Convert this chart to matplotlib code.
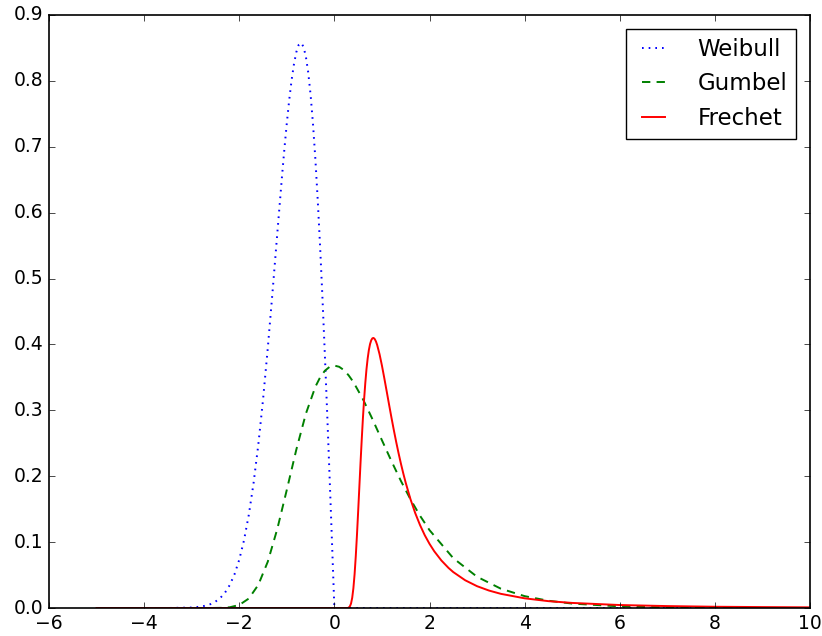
import matplotlib
matplotlib.use("Agg")
import matplotlib.pyplot as plt

plt.style.use("classic")

# densities
weibull_x = [-5.0, -3.5, -3.0, -2.9, -2.8, -2.7, -2.6, -2.5, -2.4, -2.3, -2.2, -2.1, -2.0,
             -1.9, -1.8, -1.7, -1.6, -1.5, -1.4, -1.3, -1.2, -1.1, -1.05, -1.0, -0.95,
             -0.9, -0.85, -0.8, -0.75, -0.7, -0.65, -0.6, -0.55, -0.5, -0.45, -0.4,
             -0.35, -0.3, -0.25, -0.2, -0.15, -0.1, -0.05, 0.0, 10.0]
weibull_y = [0.0, 0.0, 0.0007, 0.0013, 0.0022, 0.0037, 0.0060, 0.0097, 0.0151, 0.0232,
             0.0348, 0.0511, 0.0733, 0.1028, 0.1410, 0.1890, 0.2474, 0.3162, 0.3945,
             0.4798, 0.5686, 0.6561, 0.6975, 0.7358, 0.7707, 0.8008, 0.8254, 0.8437,
             0.8547, 0.8577, 0.8520, 0.8372, 0.8129, 0.7788, 0.7350, 0.6817, 0.6193,
             0.5484, 0.4697, 0.3843, 0.2933, 0.1980, 0.0998, 0.0, 0.0]

gumbel_x = [-5.0, -3.0, -2.6, -2.4, -2.2, -2.0, -1.8, -1.6, -1.4, -1.2, -1.0, -0.8, -0.6,
            -0.4, -0.3, -0.2, -0.1, 0.0, 0.1, 0.2, 0.3, 0.4, 0.6, 0.8, 1.0, 1.2, 1.4,
            1.6, 1.8, 2.0, 2.5, 3.0, 3.5, 4.0, 4.5, 5.0, 6.0, 7.0, 8.0, 9.0, 10.0]
gumbel_y = [0.0, 0.0, 0.00002, 0.0002, 0.0011, 0.0046, 0.0143, 0.0350, 0.0703, 0.1200,
            0.1794, 0.2404, 0.2947, 0.3357, 0.3500, 0.3601, 0.3660, 0.3679, 0.3661,
            0.3611, 0.3531, 0.3429, 0.3170, 0.2867, 0.2546, 0.2229, 0.1927, 0.1650,
            0.1401, 0.1182, 0.0756, 0.0474, 0.0293, 0.0180, 0.0110, 0.0067, 0.0025,
            0.0009, 0.0003, 0.0001, 0.0]

frechet_x = [-5.0, 0.28, 0.30, 0.325, 0.35, 0.375, 0.40, 0.425, 0.45, 0.475, 0.50, 0.525,
             0.55, 0.575, 0.60, 0.625, 0.65, 0.675, 0.70, 0.725, 0.75, 0.775, 0.80, 0.825,
             0.85, 0.875, 0.90, 0.95, 1.0, 1.05, 1.1, 1.15, 1.2, 1.25, 1.3, 1.35, 1.4,
             1.45, 1.5, 1.6, 1.7, 1.8, 1.9, 2.0, 2.1, 2.25, 2.4, 2.5, 2.75, 3.0, 3.25,
             3.5, 4.0, 4.5, 5.0, 6.0, 7.0, 8.0, 9.0, 10.0]
frechet_y = [0.0, 0.0, 0.0006, 0.0023, 0.0067, 0.0155, 0.0302, 0.0513, 0.0787, 0.1109,
             0.1465, 0.1836, 0.2205, 0.2554, 0.2879, 0.3166, 0.3414, 0.3623, 0.3787,
             0.3915, 0.4006, 0.4064, 0.4094, 0.4098, 0.4080, 0.4044, 0.3991, 0.3851,
             0.3679, 0.3487, 0.3288, 0.3087, 0.2890, 0.2700, 0.2519, 0.2348, 0.2188,
             0.2039, 0.1900, 0.1652, 0.1440, 0.1260, 0.1105, 0.0974, 0.0861, 0.0721,
             0.0608, 0.0545, 0.0421, 0.0331, 0.0265, 0.0215, 0.0147, 0.0104, 0.0077,
             0.0045, 0.0029, 0.0019, 0.0014, 0.0010]

fig = plt.figure(figsize=(8.22, 6.36), dpi=100, facecolor="white")
ax = fig.add_axes([49/822, 1 - 608/636, (810 - 49)/822, (608 - 15)/636])

ax.plot(weibull_x, weibull_y, color="b", ls=(0, (1.2, 3.6)), lw=1.4, label="Weibull")
ax.plot(gumbel_x, gumbel_y, color="g", ls=(0, (6, 4.5)), lw=1.4, label="Gumbel")
ax.plot(frechet_x, frechet_y, color="r", ls="-", lw=1.4, label="Frechet")

ax.set_xlim(-6, 10)
ax.set_ylim(0, 0.9)
ax.tick_params(labelsize=13.5)
for s in ax.spines.values():
    s.set_linewidth(1.2)

ax.legend(loc="upper right", fontsize=16.5, handlelength=1.6, handletextpad=1.1,
          borderaxespad=0.6, frameon=True, fancybox=False)

fig.savefig("out.png", dpi=100, facecolor="white")
